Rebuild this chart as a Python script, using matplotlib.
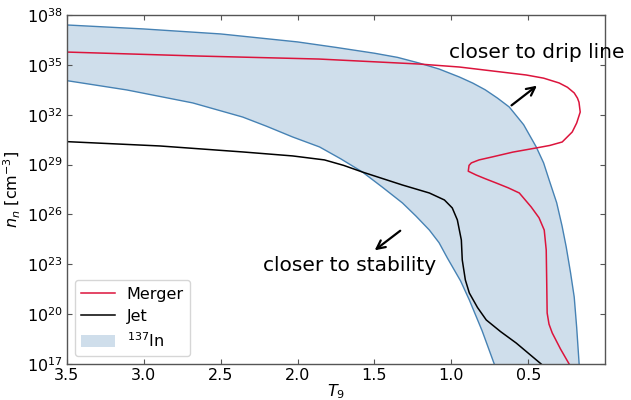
import numpy as np
import matplotlib
matplotlib.use("Agg")
import matplotlib.pyplot as plt

# 137In band: upper and lower edges (T9, log10 n_n)
band_upper_T9 = [3.5, 3.0, 2.5, 2.0, 1.75, 1.5, 1.35, 1.21, 1.08, 0.948, 0.86, 0.78, 0.70, 0.623, 0.53, 0.448, 0.40, 0.364, 0.315, 0.28, 0.253, 0.225, 0.201, 0.185, 0.169]
band_upper_logn = [37.40, 37.16, 36.86, 36.38, 36.05, 35.7, 35.45, 35.11, 34.75, 34.27, 33.9, 33.5, 33.0, 32.46, 31.4, 30.06, 29.1, 28.07, 26.7, 25.3, 24.04, 22.5, 21.03, 19.2, 17.0]
band_lower_T9 = [3.5, 3.11, 2.682, 2.357, 2.2, 2.032, 1.857, 1.72, 1.578, 1.45, 1.318, 1.23, 1.143, 1.08, 1.026, 0.94, 0.883, 0.80, 0.721]
band_lower_logn = [34.05, 33.49, 32.71, 31.86, 31.3, 30.66, 30.06, 29.35, 28.55, 27.65, 26.69, 25.9, 25.06, 24.3, 23.38, 22.0, 20.85, 19.0, 17.0]

# Jet trajectory
jet_T9 = [3.5, 2.896, 2.357, 2.032, 1.825, 1.7, 1.578, 1.318, 1.143, 1.045, 0.994, 0.961, 0.935, 0.929, 0.909, 0.883, 0.83, 0.773, 0.68, 0.578, 0.416]
jet_logn = [30.38, 30.12, 29.76, 29.52, 29.28, 28.95, 28.55, 27.77, 27.29, 26.87, 26.39, 25.67, 24.46, 23.26, 22.06, 21.27, 20.4, 19.65, 18.95, 18.26, 17.0]

# Merger trajectory
merger_T9 = [3.5, 2.64, 1.86, 1.21, 0.948, 0.513, 0.40, 0.299, 0.245, 0.201, 0.18, 0.17, 0.162, 0.185, 0.214, 0.279, 0.36, 0.448, 0.6, 0.734, 0.82, 0.870, 0.885, 0.89, 0.838, 0.78, 0.708, 0.63, 0.558, 0.481, 0.43, 0.396, 0.383, 0.380, 0.377, 0.365, 0.344, 0.29, 0.234]
merger_logn = [35.77, 35.53, 35.35, 35.05, 34.87, 34.39, 34.2, 33.91, 33.65, 33.31, 33.0, 32.75, 32.16, 31.5, 30.96, 30.36, 30.15, 30.0, 29.75, 29.46, 29.28, 29.10, 28.95, 28.6, 28.37, 28.15, 27.89, 27.6, 27.29, 26.45, 25.8, 25.06, 23.86, 22.05, 20.07, 19.4, 18.87, 17.9, 17.0]

y_ticks = [17, 20, 23, 26, 29, 32, 35, 38]
x_ticks = [3.5, 3.0, 2.5, 2.0, 1.5, 1.0, 0.5]

plt.rcParams['font.family'] = ['DejaVu Sans']
plt.rcParams['mathtext.fontset'] = 'dejavusans'

fig = plt.figure(figsize=(6.31, 4.0), dpi=100)
ax = fig.add_axes([0.106, 0.09, 0.853, 0.8725])

band_color = '#4682b4'
poly_T9 = band_upper_T9 + band_lower_T9[::-1]
poly_n = [10.0 ** v for v in band_upper_logn + band_lower_logn[::-1]]
ax.fill(poly_T9, poly_n, color=band_color, alpha=0.26, lw=0, label='$^{137}$In')
ax.plot(band_upper_T9, [10.0 ** v for v in band_upper_logn], color=band_color, lw=1.0)
ax.plot(band_lower_T9, [10.0 ** v for v in band_lower_logn], color=band_color, lw=1.0)

ax.plot(merger_T9, [10.0 ** v for v in merger_logn], color='#dc143c', lw=1.1, label='Merger')
ax.plot(jet_T9, [10.0 ** v for v in jet_logn], color='black', lw=1.1, label='Jet')

ax.set_yscale('log')
ax.set_xlim(3.5, 0.0)
ax.set_ylim(1e17, 1e38)
ax.set_xticks(x_ticks)
ax.set_xticklabels([f'{t:.1f}' for t in x_ticks])
ax.set_yticks([10.0 ** e for e in y_ticks])
ax.set_yticklabels([f'$10^{{{e}}}$' for e in y_ticks])
ax.yaxis.set_minor_locator(matplotlib.ticker.NullLocator())

ax.tick_params(direction='in', top=True, right=True, length=3.5, width=0.8,
               color='#555555', labelsize=11.5)
ax.tick_params(axis='y', pad=3)
ax.tick_params(axis='x', pad=3)
for s in ax.spines.values():
    s.set_color('#555555')
    s.set_linewidth(1.0)

ax.set_xlabel('$T_9$', fontsize=11.5)
ax.set_ylabel('$n_n$ [cm$^{-3}$]', fontsize=11.5)
ax.xaxis.set_label_coords(0.5, -0.052)
ax.yaxis.set_label_coords(-0.082, 0.5)

ax.text(1.013, 10 ** 35.77, 'closer to drip line', fontsize=14.5, va='center', ha='left')
ax.annotate('', xy=(0.429, 10 ** 33.85), xytext=(0.623, 10 ** 32.46),
            arrowprops=dict(arrowstyle='->', color='black', lw=1.6, mutation_scale=15))
ax.text(1.662, 10 ** 22.9, 'closer to stability', fontsize=14.5, va='center', ha='center')
ax.annotate('', xy=(1.513, 10 ** 23.74), xytext=(1.318, 10 ** 25.12),
            arrowprops=dict(arrowstyle='->', color='black', lw=1.6, mutation_scale=15))

h, l = ax.get_legend_handles_labels()
order = [l.index('Merger'), l.index('Jet'), l.index('$^{137}$In')]
ax.legend([h[i] for i in order], [l[i] for i in order], loc='lower left',
          fontsize=11.5, frameon=True, fancybox=True, edgecolor='#cccccc',
          borderaxespad=0.5, handlelength=2.1, handletextpad=0.75,
          labelspacing=0.45, borderpad=0.4)

fig.savefig('out.png', dpi=100)
